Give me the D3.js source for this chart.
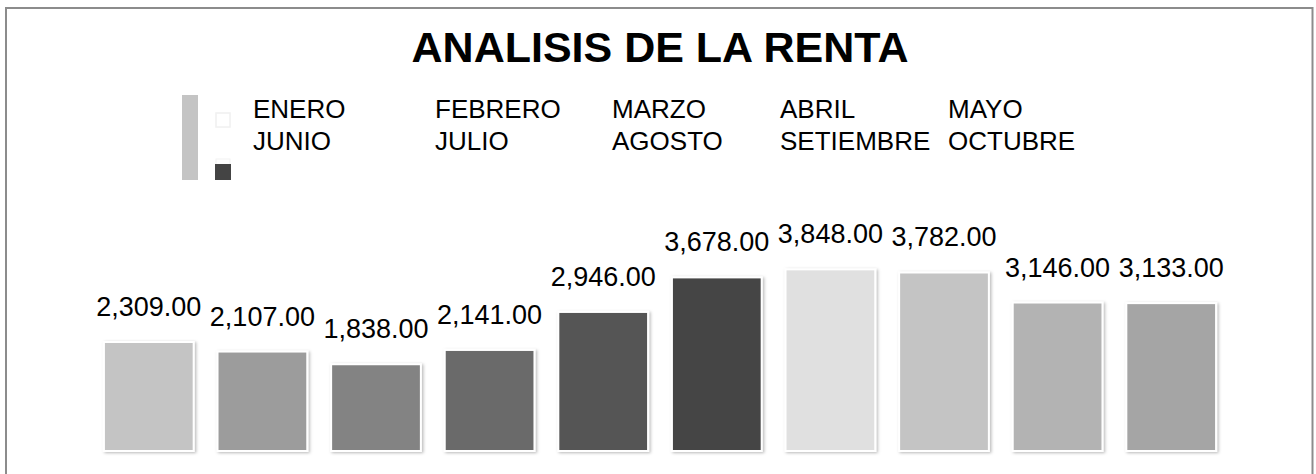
<!DOCTYPE html>
<html>
<head>
<meta charset="utf-8">
<script src="https://cdnjs.cloudflare.com/ajax/libs/d3/7.8.5/d3.min.js"></script>
<style>
    html, body { margin: 0; padding: 0; background: #fff; }
    svg { display: block; font-family: 'Liberation Sans', Arial, sans-serif; }
</style>
</head>
<body>
<div id="chart"></div>
<script>
/*jslint browser: true*/
/*global d3*/

var months = ['ENERO', 'FEBRERO', 'MARZO', 'ABRIL', 'MAYO',
              'JUNIO', 'JULIO', 'AGOSTO', 'SETIEMBRE', 'OCTUBRE'];
var renta = [2309, 2107, 1838, 2141, 2946, 3678, 3848, 3782, 3146, 3133];
var barColors = ['#c4c4c4', '#9c9c9c', '#838383', '#6b6b6b', '#545454',
                 '#444444', '#e0e0e0', '#c4c4c4', '#b3b3b3', '#a5a5a5'];
var chartTitle = 'ANALISIS DE LA RENTA';

(function (d3) {
    'use strict';

    var width = 1316,
        height = 474,
        baseY = 451,
        svg,
        x,
        y,
        fmt = d3.format(',.2f'),
        legendCols = [253, 435, 612, 780, 948],
        legendRows = [118, 150],
        defs,
        shadow,
        legend;

    svg = d3.select('#chart')
        .append('svg')
        .attr('width', width)
        .attr('height', height);

    // soft shadow under the bars
    defs = svg.append('defs');
    shadow = defs.append('filter')
        .attr('id', 'barShadow')
        .attr('x', '-10%')
        .attr('y', '-10%')
        .attr('width', '125%')
        .attr('height', '125%');
    shadow.append('feDropShadow')
        .attr('dx', 1.5)
        .attr('dy', 1)
        .attr('stdDeviation', 1.8)
        .attr('flood-color', '#000')
        .attr('flood-opacity', 0.28);

    // outer frame
    svg.append('rect')
        .attr('x', 6)
        .attr('y', 8)
        .attr('width', 1306.5)
        .attr('height', 480)
        .attr('fill', 'none')
        .attr('stroke', '#8c8c8c')
        .attr('stroke-width', 2);

    svg.append('text')
        .attr('x', 660)
        .attr('y', 62)
        .attr('text-anchor', 'middle')
        .attr('font-size', 43)
        .attr('font-weight', 'bold')
        .attr('fill', '#000')
        .text(chartTitle);

    x = d3.scaleBand()
        .domain(months)
        .range([92, 1228])
        .paddingInner(0.21)
        .paddingOuter(0.105);

    y = d3.scaleLinear()
        .domain([0, 4000])
        .range([baseY, baseY - 4000 * 0.0472]);

    // legend (the odd swatches are part of the original picture)
    legend = svg.append('g').attr('class', 'legend');
    legend.append('rect')
        .attr('x', 182).attr('y', 95)
        .attr('width', 16).attr('height', 85)
        .attr('fill', barColors[0]);
    legend.append('rect')
        .attr('x', 216).attr('y', 113)
        .attr('width', 14).attr('height', 14)
        .attr('fill', '#fff')
        .attr('stroke', '#f0f0f0')
        .attr('stroke-width', 1.5);
    legend.append('rect')
        .attr('x', 216).attr('y', 159)
        .attr('width', 14).attr('height', 6)
        .attr('fill', '#fff')
        .attr('stroke', '#f2f2f2')
        .attr('stroke-width', 1);
    legend.append('rect')
        .attr('x', 215).attr('y', 164)
        .attr('width', 16).attr('height', 16)
        .attr('fill', barColors[5]);

    legend.selectAll('text.item')
        .data(months)
        .enter()
        .append('text')
        .attr('class', 'item')
        .attr('x', function (d, i) { return legendCols[i % 5]; })
        .attr('y', function (d, i) { return legendRows[Math.floor(i / 5)]; })
        .attr('font-size', 26)
        .attr('fill', '#000')
        .text(function (d) { return d; });

    svg.append('g')
        .attr('class', 'bars')
        .selectAll('rect')
        .data(renta)
        .enter()
        .append('rect')
        .attr('x', function (d, i) { return x(months[i]); })
        .attr('y', function (d) { return y(d); })
        .attr('width', x.bandwidth())
        .attr('height', function (d) { return baseY - y(d); })
        .attr('fill', function (d, i) { return barColors[i]; })
        .attr('stroke', '#fff')
        .attr('stroke-width', 2)
        .attr('filter', 'url(#barShadow)');

    svg.append('g')
        .attr('class', 'labels')
        .selectAll('text')
        .data(renta)
        .enter()
        .append('text')
        .attr('x', function (d, i) { return x(months[i]) + x.bandwidth() / 2; })
        .attr('y', function (d) { return y(d) - 26; })
        .attr('text-anchor', 'middle')
        .attr('font-size', 27)
        .attr('fill', '#000')
        .text(function (d) { return fmt(d); });

}(window.d3));
</script>
</body>
</html>
